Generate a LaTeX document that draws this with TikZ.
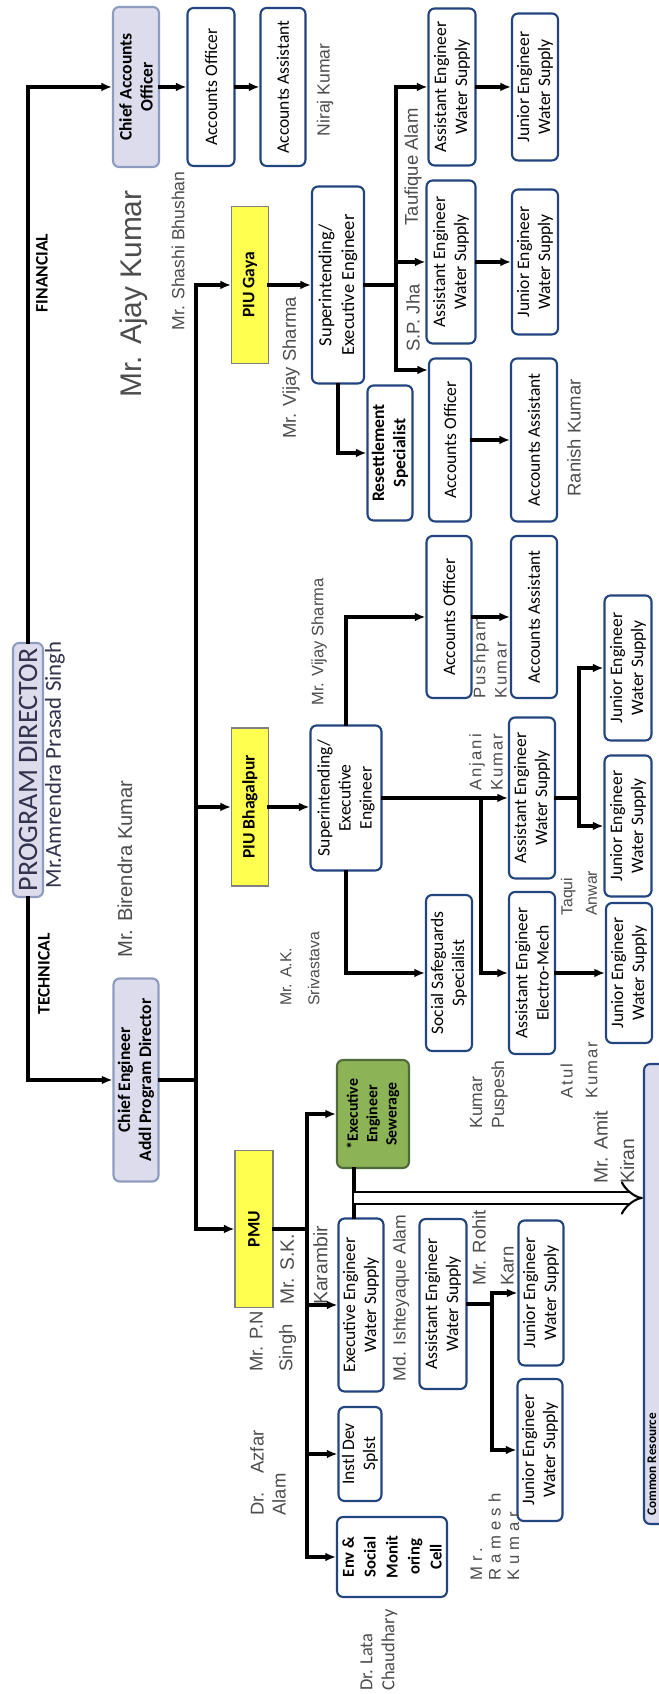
\documentclass[tikz,border=0pt]{standalone}
\usepackage{fontspec}
\setmainfont{Carlito}
\newfontfamily\namefont{Liberation Sans}
\newfontfamily\widefont[LetterSpace=12]{Liberation Sans}
\newfontfamily\spacedfont[LetterSpace=30]{Liberation Sans}
\usetikzlibrary{arrows.meta}
\definecolor{boxblue}{HTML}{23457F}
\definecolor{headfill}{HTML}{DCDCEC}
\definecolor{headline}{HTML}{8E9CC0}
\definecolor{unitfill}{HTML}{FFFF4F}
\definecolor{sewfill}{HTML}{8DB357}
\definecolor{sewline}{HTML}{4F6B3A}
\definecolor{namegray}{HTML}{4D4D4D}
\definecolor{pdtext}{HTML}{33334D}

\begin{document}
\begin{tikzpicture}[x=0.02cm, y=-0.02cm, rotate=90, transform shape,
    sz/.style 2 args={minimum width=#1*0.02cm, minimum height=#2*0.02cm},
    post/.style={draw=boxblue, line width=1.2pt, rounded corners=3.5pt, fill=white, align=center, inner sep=1pt, font=\fontsize{10}{12}\selectfont},
    head/.style={post, draw=headline, fill=headfill, font=\bfseries\fontsize{10}{12}\selectfont},
    unit/.style={draw=gray, line width=0.6pt, fill=unitfill, inner sep=1pt, font=\bfseries\fontsize{10}{12}\selectfont},
    who/.style 2 args={text=namegray, inner sep=0pt, align=left, font=\namefont\fontsize{#1}{#2}\selectfont},
    wide/.style 2 args={who={#1}{#2}, font=\widefont\fontsize{#1}{#2}\selectfont},
    tag/.style={inner sep=0pt, font=\bfseries\fontsize{10}{12}\selectfont},
    wire/.style={line width=2.3pt, line cap=rect},
    link/.style={line width=2.3pt, line cap=rect, -{Latex[length=6pt,width=5pt]}},
    dbl/.style={double, double distance=5.5pt, line width=1.2pt, -{Implies[length=9pt,width=18pt]}},
  ]
    % Page
    \useasboundingbox (0,0) rectangle (1694,659);
    \clip (0,0) rectangle (1694,659);
    \fill[white] (0,0) rectangle (1694,659);

    % Director
    \node[head, sz={254}{30}, font=\fontsize{16}{18}\selectfont, text=pdtext] (pd) at (924,28) {PROGRAM DIRECTOR};
    \node[who={13}{15}, font=\fontsize{13}{15}\selectfont, text=pdtext] (amrendra) at (929,55) {Mr.Amrendra Prasad Singh};

    % Financial side
    \node[head, sz={160}{46}] (cao) at (1607,136) {Chief Accounts\\Officer};
    \node[post, sz={158}{47}] (fao) at (1607,211) {Accounts Officer};
    \node[post, sz={158}{45}] (faa) at (1607,283) {Accounts Assistant};
    \node[who={10}{12}] (niraj) at (1604,325) {Niraj Kumar};
    \node[tag] (fin) at (1421,42) {FINANCIAL};
    \node[who={17}{20}] (ajay) at (1400,134) {Mr. Ajay Kumar};
    \node[who={10}{12}] (shashi) at (1443,178) {Mr. Shashi Bhushan};
    \draw[link] (pd.east) -| (cao.north);
    \draw[link] (cao) -- (fao);
    \draw[link] (fao) -- (faa);

    % Technical side
    \node[head, sz={203}{45}] (ce) at (614,136) {Chief Engineer\\Addl Program Director};
    \node[tag] (tech) at (720,44) {TECHNICAL};
    \node[who={11.5}{14}] (birendra) at (825,125) {Mr. Birendra Kumar};
    \draw[link] (pd.west) -| (ce.north);

    % Units
    \node[unit, sz={157}{37}] (gaya) at (1409,250) {PIU Gaya};
    \node[unit, sz={158}{37}] (bhag) at (887,250) {PIU Bhagalpur};
    \node[unit, sz={157}{38}] (pmu) at (465,254) {PMU};
    \coordinate (tb) at (0,196);
    \draw[wire] (ce.south) -- (ce.south |- tb);
    \draw[wire] (pmu.north |- tb) -- (gaya.north |- tb);
    \foreach \piu in {pmu,bhag,gaya}
        \draw[link] (\piu.north |- tb) -- (\piu.north);

    % PIU Gaya
    \node[post, sz={197}{52}, font=\fontsize{10.5}{13}\selectfont] (gse) at (1409,338) {Superintending/\\Executive Engineer};
    \node[who={10.5}{13}] (vijayg) at (1326,291) {Mr. Vijay Sharma};
    \node[post, sz={157}{47}] (gae1) at (1607,452) {Assistant Engineer\\Water Supply};
    \node[post, sz={147}{46}] (gje1) at (1607,535) {Junior Engineer\\Water Supply};
    \node[post, sz={163}{49}] (gae2) at (1432,451) {Assistant Engineer\\Water Supply};
    \node[post, sz={145}{46}] (gje2) at (1432,535) {Junior Engineer\\Water Supply};
    \node[post, sz={163}{42}] (gao) at (1254,450) {Accounts Officer};
    \node[post, sz={163}{46}] (gaa) at (1254,534) {Accounts Assistant};
    \node[post, sz={135}{45}, font=\bfseries\fontsize{10}{12}\selectfont] (res) at (1241,390) {Resettlement\\Specialist};
    \node[who={10.5}{13}] (taufique) at (1527,413) {Taufique Alam};
    \node[who={10.5}{13}] (spjha) at (1376,413) {S.P. Jha};
    \node[who={10.5}{13}] (ranish) at (1256,574) {Ranish Kumar};
    \draw[link] (gaya) -- (gse);
    \coordinate (gb) at (1324,396);
    \draw[wire] (gse.south) -- (gse.south |- gb);
    \draw[wire] (gb) -- (gae1.north |- gb);
    \draw[link] (gae1.north |- gb) -- (gae1.north);
    \draw[link] (gae2.north |- gb) -- (gae2.north);
    \draw[link] (gb) -- (gb |- gao.north);
    \draw[link] (gse.west) -| (res.north);
    \draw[link] (gae1) -- (gje1);
    \draw[link] (gae2) -- (gje2);
    \draw[link] (gao) -- (gaa);

    % PIU Bhagalpur
    \node[post, sz={145}{71}] (bse) at (896,346) {Superintending/\\Executive\\Engineer};
    \node[who={9.4}{11}] (vijayb) at (1052,319) {Mr. Vijay Sharma};
    \node[who={9}{16}, anchor=west] (aksri) at (688,300) {Mr. A.K.\\Srivastava};
    \node[post, sz={162}{45}] (bao) at (1077,449) {Accounts Officer};
    \node[post, sz={162}{46}] (baa) at (1077,534) {Accounts Assistant};
    \node[wide={9.5}{12}, anchor=west] (pushpam) at (995,490) {Pushpam\\Kumar};
    \node[post, sz={161}{46}] (bae) at (896,532) {Assistant Engineer\\Water Supply};
    \node[wide={9.5}{12}, anchor=west] (anjani) at (903,486) {Anjani\\Kumar};
    \node[post, sz={145}{47}] (bje1) at (1026,628) {Junior Engineer\\Water Supply};
    \node[post, sz={141}{47}] (bje2) at (868,628) {Junior Engineer\\Water Supply};
    \node[post, sz={162}{46}] (bem) at (721,532) {Assistant Engineer\\Electro-Mech};
    \node[post, sz={140}{46}] (bje3) at (721,629) {Junior Engineer\\Water Supply};
    \node[post, sz={156}{46}] (bss) at (721,449) {Social Safeguards\\Specialist};
    \node[who={9}{14}, anchor=west] (taqui) at (778,579) {Taqui\\Anwar};
    \node[wide={9.5}{14}, anchor=west] (atul) at (595,579) {Atul\\Kumar};
    \node[who={10}{12.5}, anchor=west] (puspesh) at (565,489) {Kumar\\Puspesh};
    \draw[link] (bhag.south) -- (bhag.south |- bse.north);
    \draw[link] (bse.east) -| (bao.north);
    \draw[link] (bao) -- (baa);
    \draw[link] (bse.south) -- (bae.north);
    \coordinate (bj) at (896,481);
    \draw[link] (bj) -| (bem.north);
    \draw[link] (bse.west) -| (bss.north);
    \coordinate (bk) at (0,579);
    \draw[wire] (bae.south) -- (bae.south |- bk);
    \draw[wire] (bje2.north |- bk) -- (bje1.north |- bk);
    \draw[link] (bje1.north |- bk) -- (bje1.north);
    \draw[link] (bje2.north |- bk) -- (bje2.north);
    \draw[link] (bem) -- (bje3);

    % PMU
    \node[who={11}{19}, anchor=west] (skk) at (389,304) {Mr. S.K.\\Karambir};
    \node[who={10.5}{17}, anchor=west] (pns) at (322,273) {Mr. P.N\\Singh};
    \node[who={10.5}{12.5}, anchor=west] (azfar) at (178,268) {Dr.\quad Azfar\\Alam};
    \node[post, sz={108}{72}, fill=sewfill, draw=sewline, font=\bfseries\fontsize{9}{11}\selectfont] (ees) at (580,373) {*Executive\\Engineer\\Sewerage};
    \node[post, sz={173}{45}] (eew) at (389,361) {Executive Engineer\\Water Supply};
    \node[post, sz={94}{43}] (idv) at (240,360) {Instl Dev\\Splst};
    \node[post, sz={80}{110}, font=\bfseries\fontsize{9.5}{12.5}\selectfont] (env) at (137,392) {Env \&\\Social\\Monit\\oring\\Cell};
    \node[who={10}{12}] (ishteyaque) at (396,401) {Md. Ishteyaque Alam};
    \node[post, sz={170}{47}] (pae) at (390,443) {Assistant Engineer\\Water Supply};
    \node[post, sz={145}{45}] (pje1) at (401,541) {Junior Engineer\\Water Supply};
    \node[post, sz={142}{45}] (pje2) at (244,540) {Junior Engineer\\Water Supply};
    \node[who={10.5}{16}, anchor=west] (rohit) at (408,493) {Mr. Rohit\\Karn};
    \node[who={9.5}{10.5}, font=\spacedfont\fontsize{9.5}{10.5}\selectfont, anchor=west] (ramesh) at (113,495) {Mr.\\Ramesh\\Kumar};
    \node[who={10.5}{12.5}, font=\fontsize{10.5}{12.5}\selectfont, anchor=west] (lata) at (3,379) {Dr. Lata\\Chaudhary};
    \node[who={11}{15}, anchor=west] (amit) at (510,614) {Mr. Amit\\Kiran};
    \node[post, sz={460}{72}, fill=headfill] (crb) at (400,680) {};
    \node[anchor=north west, inner sep=0pt, font=\bfseries\fontsize{7.5}{9}\selectfont] (crt) at (178,647) {Common Resource};
    \coordinate (pb) at (0,307);
    \draw[wire] (pmu.south) -- (pmu.south |- pb);
    \draw[wire] (env.north |- pb) -- (ees.north |- pb);
    \foreach \dept in {ees,eew,idv,env}
        \draw[link] (\dept.north |- pb) -- (\dept.north);
    \coordinate (sw) at (0,354);
    \draw[wire] (ees.west |- sw) -- (eew.east |- sw);
    \coordinate (dj) at (496,354);
    \draw[dbl] (dj) -- (dj |- crb.north);
    \coordinate (pk) at (0,492);
    \draw[wire] (pae.south) -- (pae.south |- pk);
    \draw[wire] (pje2.north |- pk) -- (pje1.north |- pk);
    \draw[link] (pje1.north |- pk) -- (pje1.north);
    \draw[link] (pje2.north |- pk) -- (pje2.north);
\end{tikzpicture}
\end{document}
